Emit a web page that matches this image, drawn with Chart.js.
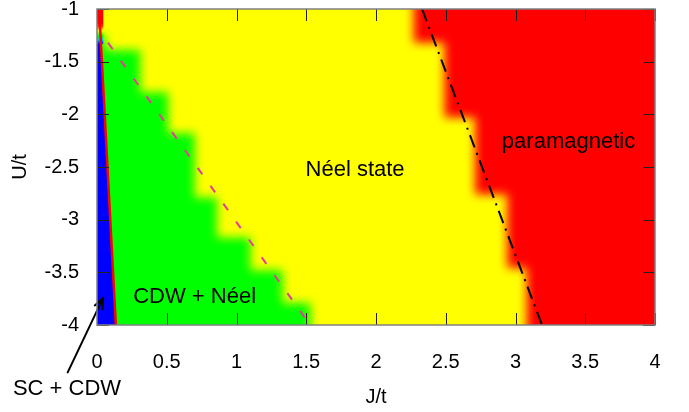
<!DOCTYPE html>
<html>
<head>
<meta charset="utf-8">
<script src="https://cdn.jsdelivr.net/npm/chart.js@4/dist/chart.umd.min.js"></script>
<style>
  html, body { margin: 0; padding: 0; background: #fff; }
  canvas { display: block; }
</style>
</head>
<body>
<canvas id="phase" width="689" height="412"></canvas>
<script>
// Axis ticks
const jTicks = [0, 0.5, 1, 1.5, 2, 2.5, 3, 3.5, 4];
const uTicks = [-1, -1.5, -2, -2.5, -3, -3.5, -4];

// Phase map, row by row: each row runs from its U top down to the next row's top (last row to U = -4)
// CDW + Néel phase occupies J below the row edge
const cdwRowTop  = [-1.25, -1.39, -1.79, -2.18, -2.79, -3.17, -3.48, -3.79];
const cdwRowEdge = [0.06, 0.31, 0.51, 0.70, 0.86, 1.10, 1.33, 1.53];
// paramagnetic phase occupies J above the row edge
const pmRowTop  = [-1, -1.32, -2.03, -2.76, -3.46];
const pmRowEdge = [2.27, 2.49, 2.71, 2.94, 3.08];
// SC + CDW strip: from J = 0 to the solid boundary, below scTop
const scTop = -1.33;
// paramagnetic corner cell at J = 0
const cornerJ = 0.045;
const cornerU = [-1, -1.15];

// Phase boundary lines
const scBoundJ = [0.015, 0.135];
const scBoundU = [-1, -4];
const neelBoundJ = [0.079, 1.49];
const neelBoundU = [-1.32, -3.93];
const pmBoundJ = [2.33, 3.19];
const pmBoundU = [-1, -4];

// Region labels (J, U anchors)
const labelText = ['Néel state', 'paramagnetic', 'CDW + Néel', 'SC + CDW'];
const labelJ = [1.85, 3.38, 0.70, -0.215];
const labelU = [-2.53, -2.26, -3.73, -4.61];
// arrow from the SC + CDW label into the strip
const arrowJ = [-0.21, 0.043];
const arrowU = [-4.45, -3.745];

const YELLOW = '#ffff00', GREEN = '#00ff00', RED = '#ff0000', BLUE = '#0000ff';
const FONT = '"Liberation Sans", Arial, sans-serif';

const pts = (js, us) => js.map((j, i) => ({ x: j, y: us[i] }));

// Separable box blur on RGB channels; repeated passes soften the cell edges
// into the interpolated colour transitions of the phase map.
function blurPass(src, dst, w, h, r, horiz) {
  const n = horiz ? w : h, m = horiz ? h : w;
  const step = horiz ? 4 : 4 * w, lineStep = horiz ? 4 * w : 4;
  const win = 2 * r + 1;
  for (let l = 0; l < m; l++) {
    const base = l * lineStep;
    for (let c = 0; c < 3; c++) {
      let sum = 0;
      for (let k = -r; k <= r; k++) {
        const i = Math.min(n - 1, Math.max(0, k));
        sum += src[base + i * step + c];
      }
      for (let i = 0; i < n; i++) {
        dst[base + i * step + c] = sum / win;
        const add = Math.min(n - 1, i + r + 1), rem = Math.max(0, i - r);
        sum += src[base + add * step + c] - src[base + rem * step + c];
      }
    }
  }
}
const BLUR_R = 5;

const heatmap = {
  id: 'heatmap',
  beforeDatasetsDraw(chart) {
    const { ctx, chartArea: a, scales: { x, y } } = chart;
    const X = v => x.getPixelForValue(v);
    const Y = v => y.getPixelForValue(v);
    const E = 40;
    const L = Math.floor(a.left - E), T = Math.floor(a.top - E);
    const R = Math.ceil(a.right + E), B = Math.ceil(a.bottom + E);
    const rowSpan = (tops, i) => {
      const t = tops[i] >= y.max ? T : Y(tops[i]);
      const b = i === tops.length - 1 ? B : Y(tops[i + 1]);
      return [t, b];
    };

    const W = R - L, H = B - T;
    const off = document.createElement('canvas');
    off.width = W;
    off.height = H;
    const o = off.getContext('2d');
    o.translate(-L, -T);

    // Néel state background
    o.fillStyle = YELLOW;
    o.fillRect(L, T, W, H);

    // CDW + Néel
    o.beginPath();
    o.moveTo(L, Y(cdwRowTop[0]));
    cdwRowTop.forEach((u, i) => {
      const [t, b] = rowSpan(cdwRowTop, i);
      o.lineTo(X(cdwRowEdge[i]), t);
      o.lineTo(X(cdwRowEdge[i]), b);
    });
    o.lineTo(L, B);
    o.closePath();
    o.fillStyle = GREEN;
    o.fill();

    // paramagnetic
    o.beginPath();
    o.moveTo(R, T);
    pmRowTop.forEach((u, i) => {
      const [t, b] = rowSpan(pmRowTop, i);
      o.lineTo(X(pmRowEdge[i]), t);
      o.lineTo(X(pmRowEdge[i]), b);
    });
    o.lineTo(R, B);
    o.closePath();
    o.fillStyle = RED;
    o.fill();

    const img = o.getImageData(0, 0, W, H);
    const bufA = Float32Array.from(img.data);
    const bufB = new Float32Array(bufA.length);
    for (let p = 0; p < 2; p++) {
      blurPass(bufA, bufB, W, H, BLUR_R, true);
      blurPass(bufB, bufA, W, H, BLUR_R, false);
    }
    for (let i = 0; i < img.data.length; i += 4) {
      img.data[i] = bufA[i];
      img.data[i + 1] = bufA[i + 1];
      img.data[i + 2] = bufA[i + 2];
      img.data[i + 3] = 255;
    }
    o.setTransform(1, 0, 0, 1, 0, 0);
    o.putImageData(img, 0, 0);

    ctx.save();
    ctx.beginPath();
    ctx.rect(a.left, a.top, a.width, a.height);
    ctx.clip();
    ctx.drawImage(off, L, T);

    // corner cell and its colour-scale transition into the SC + CDW strip
    ctx.fillStyle = RED;
    ctx.fillRect(L, T, X(cornerJ) - L, Y(cornerU[1]) - T);
    const g = ctx.createLinearGradient(0, Y(cornerU[1]), 0, Y(scTop));
    g.addColorStop(0, RED);
    g.addColorStop(0.3, YELLOW);
    g.addColorStop(0.6, GREEN);
    g.addColorStop(0.8, '#00c0ff');
    g.addColorStop(1, BLUE);
    ctx.fillStyle = g;
    ctx.fillRect(L, Y(cornerU[1]), X(cornerJ) - L, Y(scTop) - Y(cornerU[1]));

    // SC + CDW strip bounded by the solid line
    const sbJ = u => scBoundJ[0] + (u - scBoundU[0]) / (scBoundU[1] - scBoundU[0]) * (scBoundJ[1] - scBoundJ[0]);
    ctx.beginPath();
    ctx.moveTo(L, Y(scTop));
    ctx.lineTo(X(sbJ(scTop)), Y(scTop));
    ctx.lineTo(X(scBoundJ[1]), Y(scBoundU[1]));
    ctx.lineTo(X(scBoundJ[1]), B);
    ctx.lineTo(L, B);
    ctx.closePath();
    ctx.fillStyle = BLUE;
    ctx.fill();

    ctx.restore();
  },
  afterDatasetsDraw(chart) {
    const { ctx, scales: { x, y } } = chart;
    const X = v => x.getPixelForValue(v);
    const Y = v => y.getPixelForValue(v);
    ctx.save();
    ctx.fillStyle = '#000';
    ctx.font = '22px ' + FONT;
    ctx.textAlign = 'center';
    ctx.textBaseline = 'middle';
    labelText.forEach((t, i) => ctx.fillText(t, X(labelJ[i]), Y(labelU[i])));

    // arrow
    const x0 = X(arrowJ[0]), y0 = Y(arrowU[0]), x1 = X(arrowJ[1]), y1 = Y(arrowU[1]);
    const ang = Math.atan2(y1 - y0, x1 - x0);
    ctx.strokeStyle = '#000';
    ctx.lineWidth = 2;
    ctx.lineCap = 'round';
    ctx.beginPath();
    ctx.moveTo(x0, y0);
    ctx.lineTo(x1, y1);
    const h = 11, spread = 0.4;
    ctx.moveTo(x1 - h * Math.cos(ang - spread), y1 - h * Math.sin(ang - spread));
    ctx.lineTo(x1, y1);
    ctx.lineTo(x1 - h * Math.cos(ang + spread), y1 - h * Math.sin(ang + spread));
    ctx.stroke();
    ctx.restore();
  },
  afterDraw(chart) {
    const { ctx, chartArea: a, scales: { x, y } } = chart;
    const len = 12;
    ctx.save();
    ctx.strokeStyle = '#222';
    ctx.lineWidth = 1;
    ctx.beginPath();
    jTicks.forEach(v => {
      const px = Math.round(x.getPixelForValue(v)) + 0.5;
      ctx.moveTo(px, a.bottom); ctx.lineTo(px, a.bottom - len);
      ctx.moveTo(px, a.top); ctx.lineTo(px, a.top + len);
    });
    uTicks.forEach(v => {
      const py = Math.round(y.getPixelForValue(v)) + 0.5;
      ctx.moveTo(a.left, py); ctx.lineTo(a.left + len, py);
      ctx.moveTo(a.right, py); ctx.lineTo(a.right - len, py);
    });
    ctx.stroke();
    ctx.strokeStyle = '#808080';
    ctx.lineWidth = 1.5;
    ctx.strokeRect(a.left, a.top, a.width, a.height);
    ctx.restore();
  }
};

const tickFont = { family: FONT, size: 20 };
const plainNumber = v => String(v);

new Chart(document.getElementById('phase'), {
  type: 'scatter',
  data: {
    datasets: [
      {
        data: pts(scBoundJ, scBoundU),
        showLine: true, borderColor: RED, borderWidth: 2.5,
        pointRadius: 0
      },
      {
        data: pts(neelBoundJ, neelBoundU),
        showLine: true, borderColor: 'rgb(230,60,150)', borderWidth: 2,
        borderDash: [8, 14], pointRadius: 0
      },
      {
        data: pts(pmBoundJ, pmBoundU),
        showLine: true, borderColor: '#000', borderWidth: 2,
        borderDash: [13, 6, 2, 6], pointRadius: 0
      }
    ]
  },
  options: {
    responsive: false,
    devicePixelRatio: 1,
    animation: false,
    layout: { padding: { left: 0, right: 34, top: 9, bottom: 0 } },
    plugins: { legend: { display: false }, tooltip: { enabled: false } },
    scales: {
      x: {
        type: 'linear', min: 0, max: 4,
        afterBuildTicks: s => { s.ticks = jTicks.map(v => ({ value: v })); },
        afterFit: s => { s.height = 87; s.paddingLeft = 0; s.paddingRight = 0; },
        grid: { display: false, drawTicks: false },
        border: { display: false },
        ticks: { font: tickFont, color: '#000', padding: 25, maxRotation: 0, autoSkip: false, callback: plainNumber },
        title: { display: true, text: 'J/t', font: tickFont, color: '#000', padding: { top: 0, bottom: 3 } }
      },
      y: {
        type: 'linear', min: -4, max: -1,
        afterBuildTicks: s => { s.ticks = uTicks.map(v => ({ value: v })); },
        afterFit: s => { s.width = 97; s.paddingTop = 0; s.paddingBottom = 0; },
        grid: { display: false, drawTicks: false },
        border: { display: false },
        ticks: { font: tickFont, color: '#000', padding: 18, autoSkip: false, callback: plainNumber },
        title: { display: true, text: 'U/t', font: tickFont, color: '#000', padding: { top: 8, bottom: 0 } }
      }
    }
  },
  plugins: [heatmap]
});
</script>
</body>
</html>
